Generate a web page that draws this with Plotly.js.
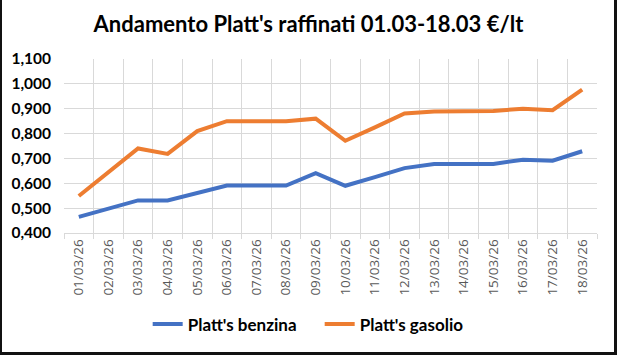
<!DOCTYPE html>
<html>
<head>
<meta charset="utf-8">
<script src="https://cdn.plot.ly/plotly-3.0.1.min.js"></script>
<style>
  html, body { margin: 0; padding: 0; background: #fff; }
  #wrap { position: relative; width: 617px; height: 355px; }
  #chart { width: 617px; height: 355px; }
  #frame { position: absolute; left: 0; top: 0; width: 617px; height: 355px; box-sizing: border-box;
           border-left: 2px solid #111; border-right: 3px solid #111; border-bottom: 3px solid #111; pointer-events: none; }
</style>
</head>
<body>
<div id="wrap">
  <div id="chart"></div>
  <div id="frame"></div>
</div>
<script>
const dates = ["01/03/26","02/03/26","03/03/26","04/03/26","05/03/26","06/03/26","07/03/26","08/03/26","09/03/26",
               "10/03/26","11/03/26","12/03/26","13/03/26","14/03/26","15/03/26","16/03/26","17/03/26","18/03/26"];
const benzina = [0.465,0.500,0.531,0.531,0.562,0.591,0.591,0.591,0.641,0.590,0.625,0.661,0.678,0.678,0.678,0.695,0.691,0.729];
const gasolio = [0.549,0.645,0.740,0.718,0.810,0.850,0.850,0.850,0.860,0.771,0.825,0.881,0.889,0.890,0.891,0.900,0.894,0.977];
const titleText = "Andamento Platt's raffinati 01.03-18.03 €/lt";
const seriesNames = ["Platt's benzina", "Platt's gasolio"];

const traces = [
  { x: dates, y: benzina, name: seriesNames[0], type: 'scatter', mode: 'lines',
    line: { color: '#4472C4', width: 4 } },
  { x: dates, y: gasolio, name: seriesNames[1], type: 'scatter', mode: 'lines',
    line: { color: '#ED7D31', width: 4 } }
];

const layout = {
  width: 617, height: 355,
  paper_bgcolor: '#ffffff', plot_bgcolor: '#ffffff',
  margin: { l: 64, r: 20, t: 59, b: 120 },
  separators: ',.',
  title: { text: titleText, x: 0.5, xref: 'container', xanchor: 'center', y: 0.932, yanchor: 'middle',
           font: { family: 'Lato, "Open Sans", sans-serif', size: 22, color: '#000', weight: 'bold' } },
  xaxis: {
    type: 'category', tickson: 'boundaries', showgrid: true, gridcolor: '#d9d9d9', gridwidth: 1,
    showline: true, linecolor: '#d9d9d9', linewidth: 1,
    ticks: 'outside', ticklen: 5, tickcolor: '#d9d9d9',
    tickangle: -90, tickfont: { family: '"Open Sans", sans-serif', size: 13.5, color: '#595959' },
    range: [-0.5, 17.5], fixedrange: true
  },
  yaxis: {
    range: [0.4, 1.1], dtick: 0.1, tick0: 0.4, tickformat: ',.3f',
    showgrid: true, gridcolor: '#d9d9d9', gridwidth: 1, zeroline: false, showline: false,
    ticks: '', ticklabelstandoff: 12,
    tickfont: { family: 'Lato, sans-serif', size: 15.5, color: '#000', weight: 'bold' }
  },
  showlegend: true,
  legend: { orientation: 'h', x: 0.157, xanchor: 'left', y: -0.525, yanchor: 'middle',
            entrywidth: 127, entrywidthmode: 'pixels',
            font: { family: 'Lato, sans-serif', size: 17, color: '#000', weight: 'bold' },
            itemwidth: 30, bgcolor: 'rgba(0,0,0,0)' }
};

Plotly.newPlot('chart', traces, layout, { displayModeBar: false, staticPlot: true });
</script>
</body>
</html>
